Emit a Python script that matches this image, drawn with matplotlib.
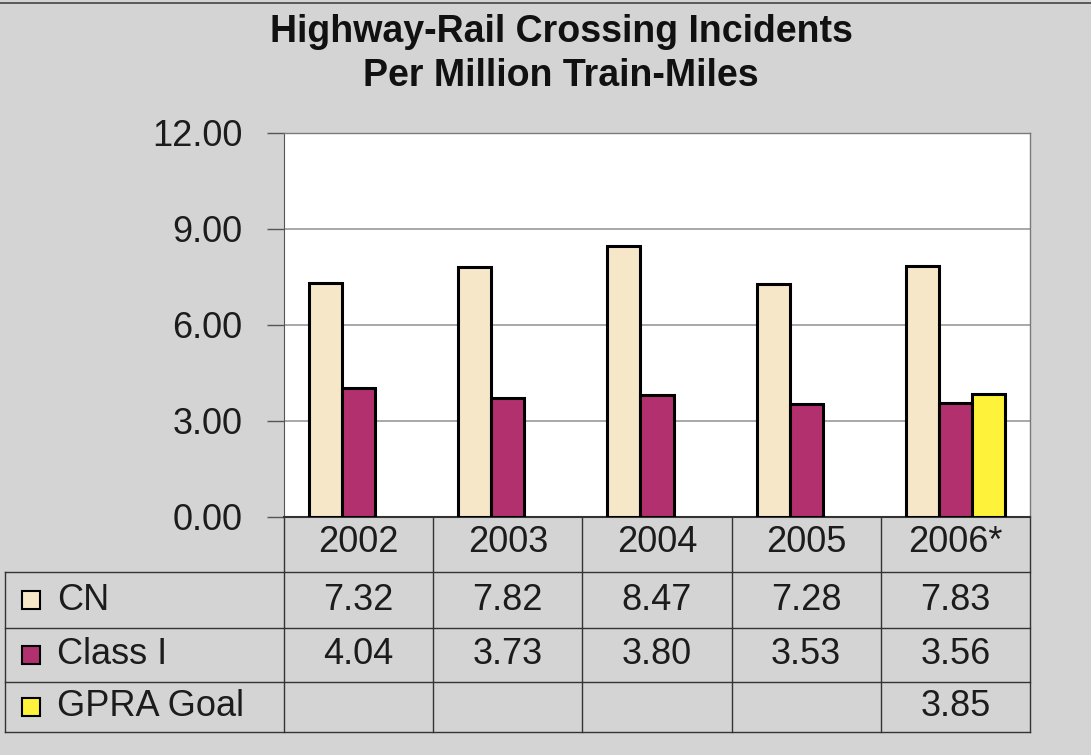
import numpy as np
import matplotlib.pyplot as plt
from matplotlib.patches import Rectangle

plt.rcParams['font.family'] = ['Liberation Sans', 'DejaVu Sans']

# datos
anios = ["2002", "2003", "2004", "2005", "2006*"]
cn = [7.32, 7.82, 8.47, 7.28, 7.83]
clase_i = [4.04, 3.73, 3.80, 3.53, 3.56]
gpra = [np.nan, np.nan, np.nan, np.nan, 3.85]
series = ["CN", "Class I", "GPRA Goal"]
colores = ["#f7e7c9", "#b3306f", "#fff23a"]
yticks = [0, 3, 6, 9, 12]

fondo = "#d4d4d4"
tinta = "#1c1c1c"
tam = 26

fig = plt.figure(figsize=(10.91, 7.55), dpi=100, facecolor=fondo)
ax = fig.add_axes([284 / 1091, 1 - 517 / 755, 746 / 1091, 384 / 755])
ax.set_facecolor("white")

x = np.arange(len(anios))
ancho = 0.222
for i, (vals, col) in enumerate(zip([cn, clase_i, gpra], colores)):
    ax.bar(x + (i - 1) * ancho, vals, ancho, color=col, edgecolor="black",
           linewidth=2.2, zorder=3)

ax.set_xlim(-0.5, len(anios) - 0.5)
ax.set_ylim(0, 12)
ax.set_yticks(yticks)
ax.set_yticklabels([f"{v:.2f}" for v in yticks], fontsize=tam, color=tinta)
ax.tick_params(axis="y", length=12, width=1, color="#555555", pad=18)
ax.set_xticks([])
ax.yaxis.grid(True, color="#9a9a9a", linewidth=1.2)
ax.set_axisbelow(True)
for lado in ["top", "right"]:
    ax.spines[lado].set_color("#7a7a7a")
    ax.spines[lado].set_linewidth(1)
ax.spines["left"].set_color("#555555")
ax.spines["bottom"].set_color("#333333")
ax.spines["bottom"].set_linewidth(1.5)

# tabla de datos debajo del gráfico (coordenadas de ejes)
alto_px = 384
filas_y = [-(572 - 517) / alto_px, -(628 - 517) / alto_px,
           -(682 - 517) / alto_px, -(732 - 517) / alto_px]
izq = (5 - 284) / 746
kw = dict(transform=ax.transAxes, clip_on=False, color="#333333", lw=1)
for y in filas_y:
    ax.plot([izq, 1], [y, y], **kw)
ax.plot([izq, izq], [filas_y[0], filas_y[-1]], **kw)
for k in range(len(anios) + 1):
    xa = k / len(anios)
    ax.plot([xa, xa], [0, filas_y[-1]], **kw)

# encabezados de años
centros_y = [-(543 - 517) / alto_px] + [(a + b) / 2 for a, b in zip(filas_y[:-1], filas_y[1:])]
for k, anio in enumerate(anios):
    ax.text((k + 0.5) / len(anios), centros_y[0], anio, transform=ax.transAxes,
            ha="center", va="center", fontsize=tam, color=tinta)

# filas con valores
for r, (nombre, vals, col) in enumerate(zip(series, [cn, clase_i, gpra], colores)):
    yc = centros_y[r + 1]
    ax.add_patch(Rectangle((izq + 17 / 746, yc - 9 / alto_px), 18 / 746, 18 / alto_px,
                           transform=ax.transAxes, clip_on=False,
                           facecolor=col, edgecolor="black", lw=1.5))
    ax.text(izq + 52 / 746, yc, nombre, transform=ax.transAxes, ha="left",
            va="center", fontsize=tam, color=tinta)
    for k, v in enumerate(vals):
        if not np.isnan(v):
            ax.text((k + 0.5) / len(anios), yc, f"{v:.2f}", transform=ax.transAxes,
                    ha="center", va="center", fontsize=tam, color=tinta)

fig.text(561 / 1091, 1 - 32 / 755, "Highway-Rail Crossing Incidents",
         ha="center", va="center", fontsize=27, fontweight="bold", color="#111111")
fig.text(561 / 1091, 1 - 76 / 755, "Per Million Train-Miles",
         ha="center", va="center", fontsize=27, fontweight="bold", color="#111111")

# borde superior del escaneo
fig.add_artist(plt.Line2D([0, 1], [1 - 3 / 755, 1 - 3 / 755], transform=fig.transFigure,
                          color="#444444", lw=1.2))

fig.savefig("out.png", dpi=100, facecolor=fondo)
plt.close(fig)
